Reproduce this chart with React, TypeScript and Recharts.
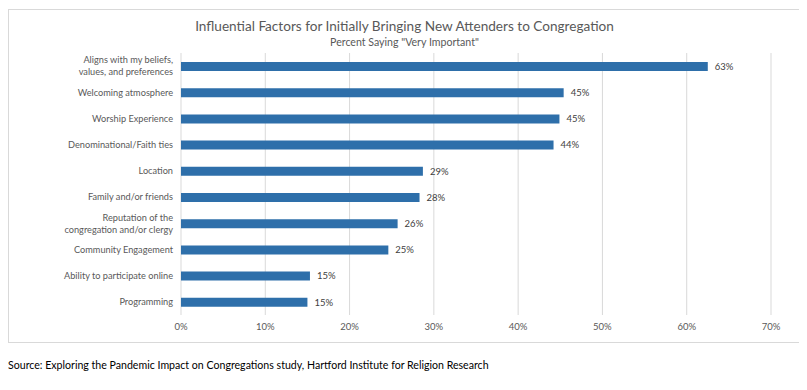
import { BarChart, Bar, XAxis, YAxis, CartesianGrid, LabelList } from 'recharts';

const categories = [
  'Aligns with my beliefs,|values, and preferences',
  'Welcoming atmosphere',
  'Worship Experience',
  'Denominational/Faith ties',
  'Location',
  'Family and/or friends',
  'Reputation of the|congregation and/or clergy',
  'Community Engagement',
  'Ability to participate online',
  'Programming',
];
const veryImportant = [62.5, 45.4, 44.9, 44.2, 28.7, 28.3, 25.7, 24.6, 15.3, 15.0];
const xTicks = [0, 10, 20, 30, 40, 50, 60, 70];

const data = categories.map((name, i) => ({ name, value: veryImportant[i] }));

const FONT = 'Lato, "Open Sans", sans-serif';
const GREY = '#595959';

function CategoryTick(props: any) {
  const { x, y, payload } = props;
  const lines = String(payload.value).split('|');
  const lh = 12;
  const start = -((lines.length - 1) * lh) / 2;
  return (
    <text x={x} y={y} textAnchor="end" fontSize={9.2} fill={GREY} fontFamily={FONT}>
      {lines.map((l, i) => (
        <tspan key={i} x={x} y={y + start + i * lh} dy="0.35em">{l}</tspan>
      ))}
    </text>
  );
}

export default function App() {
  return (
    <div style={{ position: 'relative', width: 791, height: 380, fontFamily: FONT }}>
      <div style={{ position: 'absolute', left: 0, top: 1, width: 791, height: 332, border: '1px solid #d9d9d9', background: '#fff' }}>
        <div style={{ position: 'absolute', left: 0, top: 8, width: 791, textAlign: 'center', fontSize: 13.6, color: GREY }}>
          Influential Factors for Initially Bringing New Attenders to Congregation
        </div>
        <div style={{ position: 'absolute', left: 0, top: 26, width: 791, textAlign: 'center', fontSize: 10.6, color: GREY }}>
          Percent Saying "Very Important"
        </div>
        <BarChart
          width={791}
          height={332}
          data={data}
          layout="vertical"
          margin={{ top: 43, right: 29, left: 0, bottom: 0 }}
          barCategoryGap={0}
        >
          <CartesianGrid horizontal={false} stroke="#d9d9d9" />
          <XAxis
            type="number"
            domain={[0, 70]}
            ticks={xTicks}
            tickFormatter={(v) => `${v}%`}
            axisLine={false}
            tickLine={false}
            tickSize={6}
            tick={{ fontSize: 9.5, fill: GREY, fontFamily: FONT }}
            height={27}
            interval={0}
          />
          <YAxis
            type="category"
            dataKey="name"
            width={172}
            axisLine={false}
            tickLine={false}
            tick={<CategoryTick />}
            interval={0}
          />
          <Bar dataKey="value" fill="#2e6faa" barSize={9} isAnimationActive={false}>
            <LabelList
              dataKey="value"
              position="right"
              offset={7}
              formatter={(v: any) => `${Math.round(Number(v))}%`}
              style={{ fontSize: 9.5, fill: '#404040', fontFamily: FONT }}
            />
          </Bar>
        </BarChart>
      </div>
      <div style={{ position: 'absolute', left: 0, top: 351, fontSize: 10.6, color: '#000', whiteSpace: 'nowrap' }}>
        Source: Exploring the Pandemic Impact on Congregations study, Hartford Institute for Religion Research
      </div>
    </div>
  );
}
